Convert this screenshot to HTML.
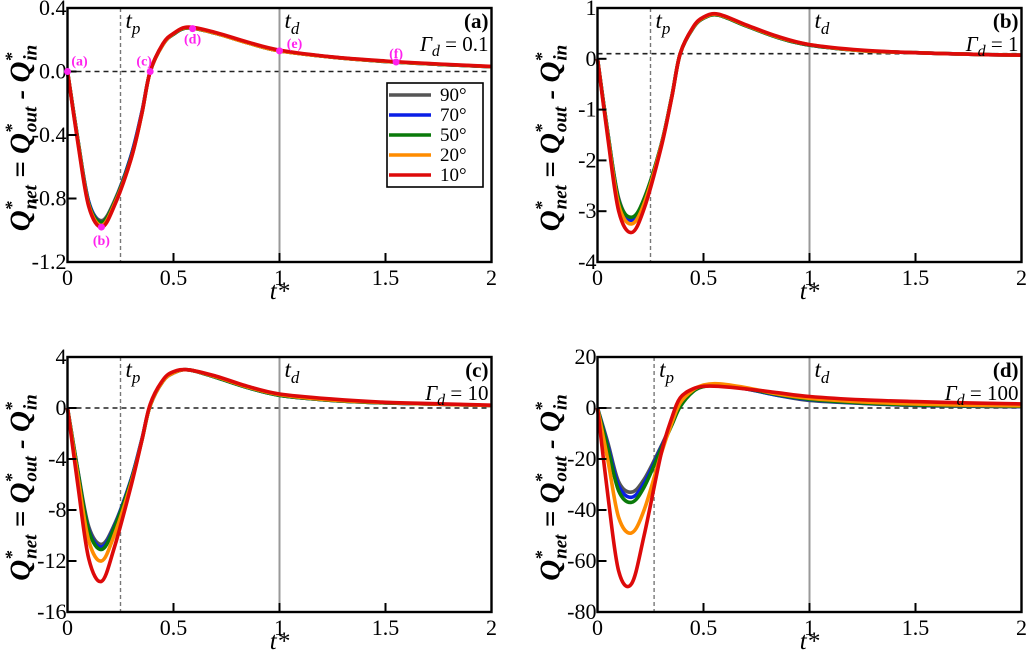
<!DOCTYPE html>
<html><head><meta charset="utf-8">
<style>
html,body{margin:0;padding:0;background:#fff;}
svg{display:block;font-family:"Liberation Serif",serif;}
</style></head>
<body>
<svg id="chart" width="1027" height="653" viewBox="0 0 1027 653" xmlns="http://www.w3.org/2000/svg"></svg>
<script>
// Shared time samples
const times = [0,0.05,0.1,0.16,0.22,0.3,0.35,0.39,0.45,0.5,0.57,0.7,0.85,1.0,1.25,1.5,1.75,2.0];
const seriesNames = ["90°","70°","50°","20°","10°"];
const seriesColors = ["#555555","#0a1ee6","#0a7a0a","#ff8c00","#dd0a0a"];

// Panel (a) Γd = 0.1
const a90 = [0,-0.44,-0.82,-0.94,-0.82,-0.53,-0.26,0,0.17,0.235,0.275,0.24,0.18,0.13,0.09,0.063,0.045,0.03];
const a70 = [0,-0.44,-0.82,-0.95,-0.83,-0.53,-0.26,0,0.17,0.235,0.275,0.24,0.18,0.13,0.09,0.063,0.045,0.03];
const a50 = [0,-0.44,-0.83,-0.95,-0.83,-0.54,-0.27,0,0.17,0.235,0.275,0.24,0.18,0.13,0.09,0.063,0.045,0.03];
const a20 = [0,-0.45,-0.84,-0.97,-0.84,-0.55,-0.27,0,0.17,0.238,0.278,0.24,0.18,0.13,0.09,0.064,0.046,0.031];
const a10 = [0,-0.46,-0.85,-0.98,-0.85,-0.55,-0.27,0,0.175,0.24,0.28,0.245,0.185,0.135,0.092,0.066,0.047,0.032];
// Panel (b) Γd = 1
const b90 = [0,-1.5,-2.75,-3.15,-2.75,-1.7,-0.75,0.1,0.6,0.8,0.86,0.65,0.42,0.27,0.16,0.12,0.09,0.07];
const b70 = [0,-1.5,-2.78,-3.18,-2.78,-1.7,-0.75,0.1,0.6,0.8,0.86,0.65,0.42,0.27,0.16,0.12,0.09,0.07];
const b50 = [0,-1.5,-2.78,-3.12,-2.76,-1.7,-0.75,0.1,0.6,0.8,0.86,0.65,0.42,0.27,0.16,0.12,0.09,0.07];
const b20 = [0,-1.55,-2.88,-3.25,-2.85,-1.72,-0.76,0.1,0.61,0.81,0.87,0.66,0.43,0.28,0.16,0.12,0.09,0.07];
const b10 = [0,-1.6,-3.0,-3.42,-2.95,-1.75,-0.77,0.1,0.62,0.82,0.88,0.67,0.44,0.28,0.17,0.12,0.09,0.07];
// Panel (c) Γd = 10
const c90 = [0,-5.0,-9.3,-10.7,-9.2,-5.6,-2.5,0.2,2.1,2.75,3.0,2.4,1.6,1.0,0.6,0.4,0.3,0.2];
const c70 = [0,-5.1,-9.5,-10.9,-9.3,-5.6,-2.5,0.2,2.1,2.75,3.0,2.4,1.6,1.0,0.6,0.4,0.3,0.2];
const c50 = [0,-5.1,-9.6,-11.1,-9.4,-5.7,-2.6,0.2,2.1,2.75,3.0,2.4,1.6,1.0,0.6,0.4,0.3,0.2];
const c20 = [0,-5.5,-10.4,-12.0,-10.0,-5.9,-2.6,0.2,2.1,2.75,3.0,2.45,1.65,1.05,0.62,0.42,0.3,0.2];
const c10 = [0,-6.2,-11.8,-13.6,-11.0,-6.1,-2.6,0.3,2.2,2.85,3.0,2.5,1.7,1.1,0.7,0.45,0.33,0.22];
// Panel (d) Γd = 100
const d90 = [0,-14,-29,-33,-28,-15,-6,1,6.5,8.5,9.0,7.5,5,3,1.8,1.0,0.7,0.5];
const d70 = [0,-15,-30.5,-35,-29.5,-15.5,-6.5,1,6.5,8.5,9.0,7.5,5,3.2,1.9,1.1,0.8,0.6];
const d50 = [0,-16,-32.5,-37,-31,-16,-6.8,0.5,6.4,8.4,9.0,7.6,5.2,3.4,2.0,1.2,0.9,0.7];
const d20 = [0,-21,-43,-49,-40,-18,-6,2,7,9,9.5,8,5.5,3.8,2.4,1.6,1.1,0.9];
const d10 = [0,-35,-64,-69,-50,-18,-4,4,7.5,8.5,8.5,7.5,6,4.5,3.2,2.5,2.0,1.6];

// Marker points panel (a)
const markerT = [0,0.16,0.39,0.59,1.0,1.55];
const markerV = [0,-0.98,0.0,0.27,0.13,0.06];
const markerLbl = ["(a)","(b)","(c)","(d)","(e)","(f)"];

const panelSeries = [[a90,a70,a50,a20,a10],[b90,b70,b50,b20,b10],[c90,c70,c50,c20,c10],[d90,d70,d50,d20,d10]];
const panelYTicks = [[0.4,0,-0.4,-0.8,-1.2],[1,0,-1,-2,-3,-4],[4,0,-4,-8,-12,-16],[20,0,-20,-40,-60,-80]];
const panelYTickLbl = [["0.4","0.0","-0.4","-0.8","-1.2"],["1","0","-1","-2","-3","-4"],["4","0","-4","-8","-12","-16"],["20","0","-20","-40","-60","-80"]];
const panelYMin = [-1.2,-4,-16,-80];
const panelYMax = [0.4,1,4,20];
const panelZero = [0,0.1,0,0];
const panelTp = [0.25,0.25,0.25,0.267];
const panelTag = ["(a)","(b)","(c)","(d)"];
const panelGamma = ["0.1","1","10","100"];
const xTicks = [0,0.5,1,1.5,2];
const xTickLbl = ["0","0.5","1","1.5","2"];

const NS="http://www.w3.org/2000/svg";
const svg=document.getElementById('chart');
function mk(tag,attrs,parent){const e=document.createElementNS(NS,tag);for(const k in attrs)e.setAttribute(k,attrs[k]);(parent||svg).appendChild(e);return e;}

const boxes=[{l:67.5,r:491.5,t:8,b:262},{l:597.5,r:1021.5,t:8,b:262},{l:67.5,r:491.5,t:357,b:612},{l:597.5,r:1021.5,t:357,b:612}];

function catmull(pts){
  let d="M"+pts[0][0].toFixed(1)+","+pts[0][1].toFixed(1);
  for(let i=0;i<pts.length-1;i++){
    const p0=pts[i-1]||pts[i],p1=pts[i],p2=pts[i+1],p3=pts[i+2]||p2;
    const c1=[p1[0]+(p2[0]-p0[0])/6,p1[1]+(p2[1]-p0[1])/6];
    const c2=[p2[0]-(p3[0]-p1[0])/6,p2[1]-(p3[1]-p1[1])/6];
    d+="C"+c1[0].toFixed(1)+","+c1[1].toFixed(1)+" "+c2[0].toFixed(1)+","+c2[1].toFixed(1)+" "+p2[0].toFixed(1)+","+p2[1].toFixed(1);
  }
  return d;
}

boxes.forEach((B,pi)=>{
  const g=mk('g',{});
  
  
  const xs=t=>B.l+(t/2)*(B.r-B.l);
  const ys=v=>B.b-(v-panelYMin[pi])/(panelYMax[pi]-panelYMin[pi])*(B.b-B.t);
  const z=mk('line',{x1:B.l,x2:B.r,y1:ys(panelZero[pi]),y2:ys(panelZero[pi]),stroke:'#222','stroke-width':1.6,'stroke-dasharray':'5,4'},g);
  
  
  const tp=mk('line',{x1:xs(panelTp[pi]),x2:xs(panelTp[pi]),y1:B.t,y2:B.b,stroke:'#777','stroke-width':1.4,'stroke-dasharray':'4,3'},g);
  
  
  const td=mk('line',{x1:xs(1),x2:xs(1),y1:B.t,y2:B.b,stroke:'#999','stroke-width':2},g);
  
  
  panelSeries[pi].forEach((vals,si)=>{
    const pts=times.map((t,i)=>[xs(t),ys(vals[i])]);
    const p=mk('path',{d:catmull(pts),fill:'none',stroke:seriesColors[si],'stroke-width':3.6,'stroke-linejoin':'round'},g);
    
    
  });
  const fr=mk('rect',{x:B.l,y:B.t,width:B.r-B.l,height:B.b-B.t,fill:'none',stroke:'#000','stroke-width':2.4},g);
  
  
  xTicks.forEach((t,i)=>{
    if(i>0&&i<xTicks.length-1){const tk=mk('line',{x1:xs(t),x2:xs(t),y1:B.b,y2:B.b-9,stroke:'#000','stroke-width':2},g);
      
      }
    const tx=mk('text',{x:xs(t),y:B.b+23,'font-size':22,'text-anchor':'middle'},g);
    tx.textContent=xTickLbl[i];
    
    
  });
  panelYTicks[pi].forEach((v,i)=>{
    const tk=mk('line',{x1:B.l,x2:B.l+9,y1:ys(v),y2:ys(v),stroke:'#000','stroke-width':2},g);
    
    
    const tx=mk('text',{x:B.l-1,y:ys(v)+7,'font-size':22,'text-anchor':'end'},g);
    tx.textContent=panelYTickLbl[pi][i];
    
    
  });
  const xl=mk('text',{x:(B.l+B.r)/2,y:B.b+37,'font-size':25,'font-style':'italic','text-anchor':'middle'},g);
  xl.textContent='t*';
  
  
  const cx=B.l-38, cy=(B.t+B.b)/2+3;
  const yl=mk('text',{x:cx,y:cy,'font-size':29,'font-weight':'bold','font-style':'italic','text-anchor':'middle',transform:`rotate(-90 ${cx} ${cy})`},g);
  yl.innerHTML='Q<tspan font-size="18" dy="-12">*</tspan><tspan font-size="19" dy="19" dx="-8">net</tspan><tspan dy="-7"> = Q</tspan><tspan font-size="18" dy="-12">*</tspan><tspan font-size="19" dy="19" dx="-8">out</tspan><tspan dy="-7"> - Q</tspan><tspan font-size="18" dy="-12">*</tspan><tspan font-size="19" dy="19" dx="-8">in</tspan>';
  
  
  const tpl=mk('text',{x:xs(panelTp[pi])+5,y:B.t+20,'font-size':23,'font-style':'italic'},g);
  tpl.innerHTML='t<tspan font-size="17" dy="6">p</tspan>';
  
  
  const tdl=mk('text',{x:xs(1)+5,y:B.t+20,'font-size':23,'font-style':'italic'},g);
  tdl.innerHTML='t<tspan font-size="17" dy="6">d</tspan>';
  
  
  const tag=mk('text',{x:B.r-3,y:B.t+20,'font-size':21,'font-weight':'bold','text-anchor':'end'},g);
  tag.textContent=panelTag[pi];
  
  
  const gm=mk('text',{x:B.r-3,y:B.t+43,'font-size':21,'text-anchor':'end'},g);
  gm.innerHTML='<tspan font-style="italic">Γ</tspan><tspan font-size="16" dy="5" font-style="italic">d</tspan><tspan dy="-5"> = '+panelGamma[pi]+'</tspan>';
  
  

  if(pi===0){
    markerT.forEach((t,i)=>{
      const c=mk('circle',{cx:xs(t),cy:ys(markerV[i]),r:3.5,fill:'#ff22ee'},g);
      
      
      const off=[[12,-6],[0,18],[-6,-6],[0,15],[15,-3],[0,-4]][i];
      const lt=mk('text',{x:xs(t)+off[0],y:ys(markerV[i])+off[1],'font-size':14,'font-weight':'bold',fill:'#ff22ee','text-anchor':'middle'},g);
      lt.textContent=markerLbl[i];
      
      
    });
    const lg=mk('g',{},g);
    
    
    mk('rect',{x:387,y:83,width:96,height:104,fill:'#fff',stroke:'#000','stroke-width':1.6},lg);
    seriesNames.forEach((n,i)=>{
      const yy=95+i*20;
      const ll=mk('line',{x1:389,x2:431,y1:yy,y2:yy,stroke:seriesColors[i],'stroke-width':3.6},lg);
      
      
      const lt=mk('text',{x:440,y:yy+6,'font-size':19},lg);
      lt.textContent=n;
      
      
    });
  }
});
</script>
</body></html>
